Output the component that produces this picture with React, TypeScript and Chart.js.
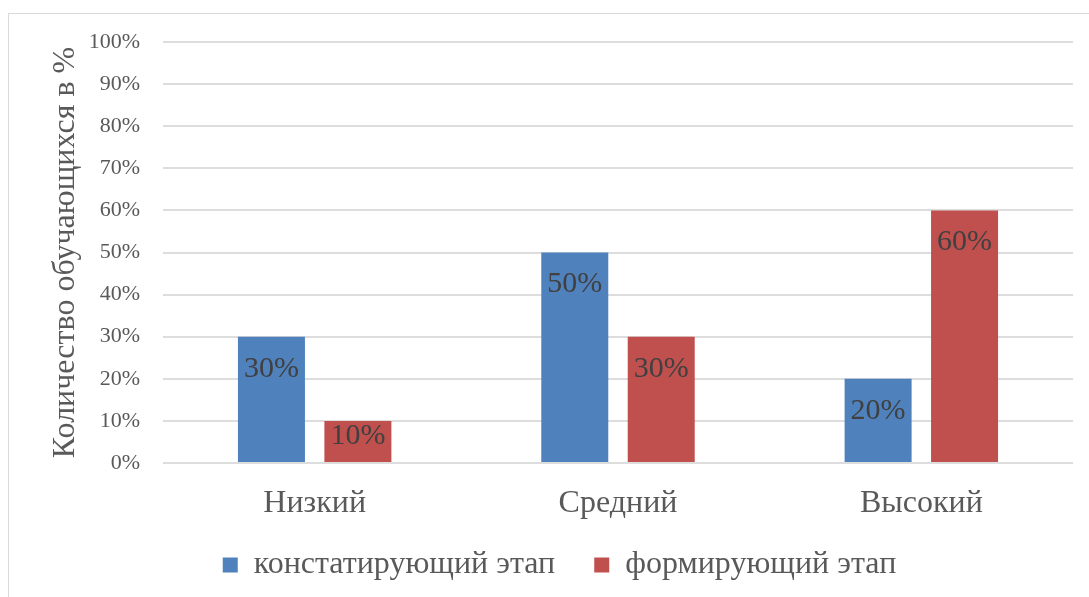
import React, { useEffect, useRef } from "react";
import { Chart, registerables } from "chart.js";

Chart.register(...registerables);

const categories = ["Низкий", "Средний", "Высокий"];
const seriesNames = ["констатирующий этап", "формирующий этап"];
const constatingValues = [30, 50, 20];
const formingValues = [10, 30, 60];
const seriesColors = ["#4F81BD", "#C0504D"];
const yAxisTitle = "Количество обучающихся в %";
const yMin = 0;
const yMax = 100;
const yStep = 10;

const FONT = "'Liberation Serif', 'Times New Roman', serif";
const TEXT = "#595959";

const barLabelPlugin = {
  id: "barLabels",
  afterDatasetsDraw(chart: any) {
    const ctx = chart.ctx;
    ctx.save();
    ctx.font = `30px ${FONT}`;
    ctx.fillStyle = "#404040";
    ctx.textAlign = "center";
    ctx.textBaseline = "middle";
    chart.data.datasets.forEach((ds: any, i: number) => {
      const meta = chart.getDatasetMeta(i);
      meta.data.forEach((bar: any, j: number) => {
        const { x, y, base } = bar.getProps(["x", "y", "base"], true);
        const off = Math.min(32, (base - y) / 2 - 5);
        ctx.fillText(`${ds.data[j]}%`, x, y + off);
      });
    });
    ctx.restore();
  },
};

// Lift the legend row a little so that it sits closer to the category labels
const legendShiftPlugin = {
  id: "legendShift",
  afterLayout(chart: any) {
    const lg = chart.legend;
    if (lg) {
      lg.top -= 13;
      lg.bottom -= 13;
    }
  },
};

export default function App() {
  const ref = useRef<HTMLCanvasElement>(null);

  useEffect(() => {
    document.documentElement.style.overflow = "hidden";
    document.body.style.overflow = "hidden";
    const canvas = ref.current!;
    const chart = new Chart(canvas, {
      type: "bar",
      data: {
        labels: categories,
        datasets: [
          {
            label: seriesNames[0],
            data: constatingValues,
            backgroundColor: seriesColors[0],
            barPercentage: 0.775,
            categoryPercentage: 0.57,
          },
          {
            label: seriesNames[1],
            data: formingValues,
            backgroundColor: seriesColors[1],
            barPercentage: 0.775,
            categoryPercentage: 0.57,
          },
        ],
      },
      options: {
        responsive: false,
        animation: false,
        layout: { padding: { top: 28, left: 37, right: 16, bottom: 10 } },
        plugins: {
          tooltip: { enabled: false },
          legend: {
            position: "bottom",
            labels: {
              boxWidth: 15,
              boxHeight: 15,
              padding: 39,
              color: TEXT,
              font: { family: FONT, size: 32 },
            },
          },
        },
        scales: {
          x: {
            grid: { display: false },
            border: { display: false },
            ticks: { color: TEXT, font: { family: FONT, size: 32 }, padding: 13 },
            afterFit: (scale: any) => {
              scale.height = 60;
            },
          },
          y: {
            min: yMin,
            max: yMax,
            border: { display: false },
            grid: { color: "#dddddd", lineWidth: 2, drawTicks: false },
            ticks: {
              stepSize: yStep,
              color: TEXT,
              font: { family: FONT, size: 22 },
              padding: 23,
              callback: (v: any) => `${v}%`,
            },
            title: {
              display: true,
              text: yAxisTitle,
              color: TEXT,
              font: { family: FONT, size: 32 },
              padding: { top: 0, bottom: 0 },
            },
            afterFit: (scale: any) => {
              scale.width = 154 - 37;
              scale.paddingTop = 0;
              scale.paddingBottom = 0;
            },
          },
        },
      },
      plugins: [barLabelPlugin, legendShiftPlugin],
    });
    return () => chart.destroy();
  }, []);

  return (
    <div
      style={{
        position: "absolute",
        top: 13,
        left: 8,
        borderTop: "1px solid #d9d9d9",
        borderLeft: "1px solid #d9d9d9",
        width: 1081,
        height: 584,
        overflow: "hidden",
      }}
    >
      <canvas ref={ref} width={1080} height={600} style={{ display: "block" }} />
    </div>
  );
}
